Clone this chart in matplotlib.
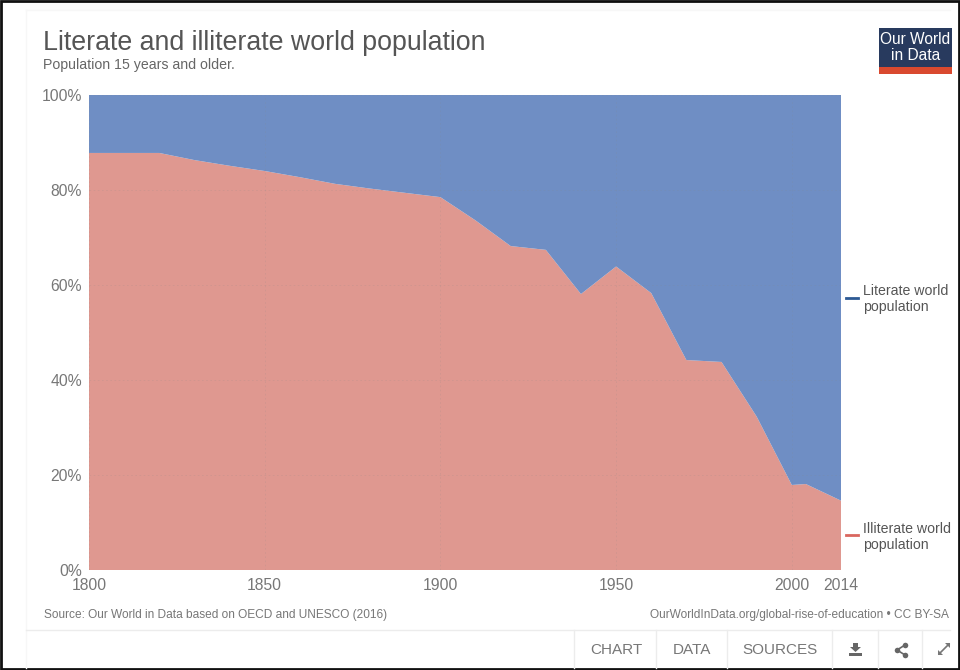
import matplotlib
matplotlib.use('Agg')
import matplotlib.pyplot as plt
from matplotlib.patches import Rectangle, Polygon

plt.rcParams['font.family'] = ['Liberation Sans', 'DejaVu Sans']

# data
years = [1800, 1820, 1830, 1840, 1850, 1860, 1870, 1880, 1890, 1900, 1910, 1920,
         1930, 1940, 1950, 1960, 1970, 1980, 1990, 2000, 2004, 2014]
illiterate = [87.8, 87.8, 86.3, 85.1, 84.0, 82.7, 81.3, 80.3, 79.4, 78.5, 73.6, 68.2,
              67.4, 58.1, 63.9, 58.3, 44.2, 43.8, 32.3, 17.9, 18.1, 14.6]
literate = [100 - v for v in illiterate]
y_ticks = [0, 20, 40, 60, 80, 100]
x_ticks = [1800, 1850, 1900, 1950, 2000, 2014]
tabs = ['CHART', 'DATA', 'SOURCES']

W, H = 960, 670
fig = plt.figure(figsize=(W / 100, H / 100), dpi=100, facecolor='white')

# pixel canvas for everything around the plot
bg = fig.add_axes([0, 0, 1, 1])
bg.set_xlim(0, W)
bg.set_ylim(H, 0)
bg.axis('off')

# outer border and card
bg.add_patch(Rectangle((0.5, 0.5), W - 1.5, H - 1.5, fill=False, ec='#111111', lw=2))
bg.plot([26, 26], [10, 668], color='#f7f7f7', lw=1)
bg.plot([26, 950], [10, 10], color='#f7f7f7', lw=1)
bg.plot([26, 950], [630, 630], color='#ececec', lw=1)
for x in [574, 656, 727, 832, 878, 922]:
    bg.plot([x, x], [630, 668], color='#ececec', lw=1)

bg.text(43, 43, 'Literate and illiterate world population', fontsize=19.3, color='#555555',
        va='center', ha='left')
bg.text(43, 65, 'Population 15 years and older.', fontsize=10.2, color='#666666',
        va='center', ha='left')

# logo
bg.add_patch(Rectangle((879, 28), 73, 40, color='#283a5e', lw=0))
bg.add_patch(Rectangle((879, 67), 73, 6.5, color='#d9492f', lw=0))
bg.text(915.5, 39, 'Our World', fontsize=11.2, color='white', ha='center', va='center')
bg.text(915.5, 56, 'in Data', fontsize=11.2, color='white', ha='center', va='center')

# footer
bg.text(44, 615, 'Source: Our World in Data based on OECD and UNESCO (2016)', fontsize=8.6,
        color='#777777', va='center')
bg.text(949, 615, 'OurWorldInData.org/global-rise-of-education • CC BY-SA', fontsize=8.6,
        color='#777777', va='center', ha='right')

# toolbar
for label, x in zip(tabs, [616, 692, 780]):
    bg.text(x, 650, label, fontsize=11, color='#777777', ha='center', va='center')

# download icon
bg.add_patch(Polygon([[853, 643], [858, 643], [858, 647], [861, 647], [855.5, 652], [850, 647], [853, 647]],
                     color='#666666', lw=0))
bg.add_patch(Rectangle((849, 652.5), 13, 3.5, color='#666666', lw=0))
# share icon
bg.plot([905, 897, 905], [645, 650, 655], color='#666666', lw=1.2)
bg.scatter([905, 897, 905], [645, 650, 655], s=16, color='#666666', lw=0)
# expand icon
bg.plot([939, 949], [654, 644], color='#777777', lw=1.2)
bg.add_patch(Polygon([[945, 643], [950, 643], [950, 648]], color='#777777', lw=0))
bg.add_patch(Polygon([[938, 650], [938, 655], [943, 655]], color='#777777', lw=0))

# legend
bg.plot([846, 858], [298, 298], color='#2d5a94', lw=2)
bg.text(863, 299, 'Literate world\npopulation', fontsize=10.2, color='#555555', va='center',
        linespacing=1.25)
bg.plot([846, 858], [535, 535], color='#d9675f', lw=2)
bg.text(863, 537, 'Illiterate world\npopulation', fontsize=10.2, color='#555555', va='center',
        linespacing=1.25)

# the chart itself, plot box 89..841 x 95..570 px
ax = fig.add_axes([89 / W, 1 - 570 / H, (841 - 89) / W, (570 - 95) / H])
ax.stackplot(years, illiterate, literate, colors=['#df9890', '#6f8ec4'], lw=0)
ax.set_xlim(1800, 2014)
ax.set_ylim(0, 100)
ax.set_xticks(x_ticks)
ax.set_yticks(y_ticks)
ax.set_yticklabels([f'{v}%' for v in y_ticks])
ax.tick_params(length=0, labelsize=11.3, labelcolor='#777777')
ax.tick_params(axis='x', pad=6)
ax.tick_params(axis='y', pad=5)
ax.grid(True, ls=(0, (2, 3)), lw=0.6, color='#888888', alpha=0.18)
ax.set_axisbelow(False)
for s in ax.spines.values():
    s.set_visible(False)

fig.savefig('out.png', dpi=100)
